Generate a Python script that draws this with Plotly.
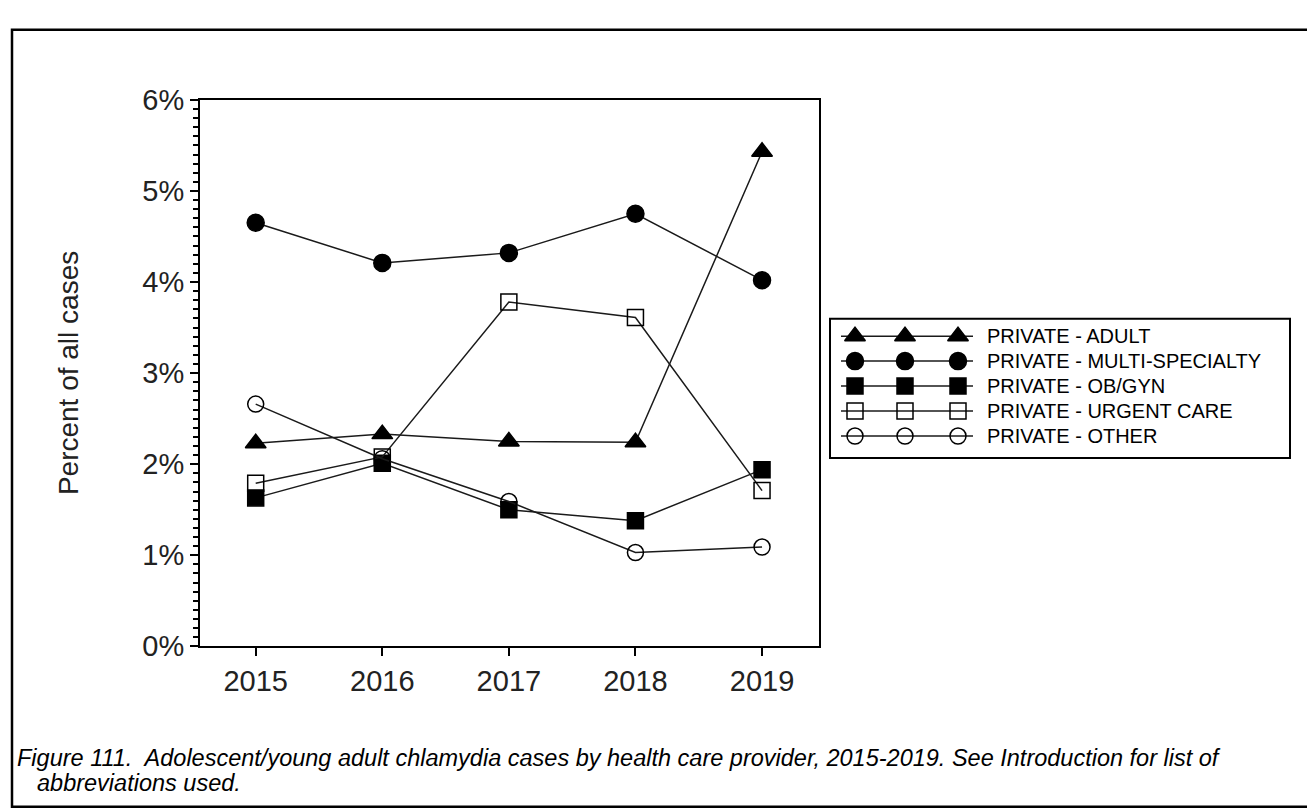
import plotly.graph_objects as go

years = [2015, 2016, 2017, 2018, 2019]
series_names = [
    "PRIVATE - ADULT",
    "PRIVATE - MULTI-SPECIALTY",
    "PRIVATE - OB/GYN",
    "PRIVATE - URGENT CARE",
    "PRIVATE - OTHER",
]
adult = [2.23, 2.33, 2.25, 2.24, 5.43]
multi_specialty = [4.65, 4.21, 4.32, 4.75, 4.02]
ob_gyn = [1.63, 2.01, 1.50, 1.38, 1.94]
urgent_care = [1.79, 2.08, 3.78, 3.61, 1.71]
other = [2.66, 2.06, 1.59, 1.03, 1.09]
y_ticks = [0, 1, 2, 3, 4, 5, 6]
y_tick_labels = ["0%", "1%", "2%", "3%", "4%", "5%", "6%"]

values = [adult, multi_specialty, ob_gyn, urgent_care, other]
symbols = ["triangle-up", "circle", "square", "square-open", "circle-open"]
sizes = [18, 17, 16, 16, 16]

W, H = 1315, 808
FONT = "Liberation Sans, Arial, sans-serif"

def px(x):
    return x / W

def py(y):
    return 1 - y / H

# plot area in pixels
PL, PR, PT, PB = 192, 811, 79, 648
# legend box in pixels
LL, LR, LT, LB = 822, 1282, 307, 452

fig = go.Figure()

for name, vals, sym, sz in zip(series_names, values, symbols, sizes):
    fig.add_trace(go.Scatter(
        x=years, y=vals, name=name, mode="lines+markers",
        line=dict(color="#1a1a1a", width=1.5),
        marker=dict(symbol=sym, size=sz, color="black",
                    line=dict(color="black", width=1.5)),
        showlegend=False, xaxis="x", yaxis="y",
    ))

# custom legend on its own axes (three markers per key, as in the original)
key_line_x = [11, 143]
key_marker_x = [25, 75, 128]
row_y = [18, 44, 70, 96, 122]
for name, sym, sz, ry in zip(series_names, symbols, sizes, row_y):
    fig.add_trace(go.Scatter(
        x=key_line_x, y=[ry, ry], mode="lines",
        line=dict(color="#1a1a1a", width=1.5),
        showlegend=False, hoverinfo="skip", xaxis="x2", yaxis="y2",
    ))
    fig.add_trace(go.Scatter(
        x=key_marker_x, y=[ry] * 3, mode="markers",
        marker=dict(symbol=sym, size=sz, color="black",
                    line=dict(color="black", width=1.5)),
        showlegend=False, hoverinfo="skip", xaxis="x2", yaxis="y2",
    ))
    fig.add_annotation(
        x=155, y=ry, xref="x2", yref="y2", text=name, showarrow=False,
        xanchor="left", yanchor="middle",
        font=dict(family=FONT, size=20, color="black"),
    )

fig.update_layout(
    width=W, height=H,
    margin=dict(l=0, r=0, t=0, b=0),
    paper_bgcolor="white", plot_bgcolor="white",
    font=dict(family=FONT, color="black"),
    xaxis=dict(
        domain=[px(PL), px(PR)], range=[2014.56, 2019.45],
        tickvals=years, ticktext=[str(y) for y in years],
        ticks="outside", ticklen=8, tickwidth=2, tickcolor="black",
        showline=True, linewidth=2, linecolor="black", mirror=True,
        showgrid=False, zeroline=False,
        tickfont=dict(family=FONT, size=29, color="#222"),
        anchor="y",
    ),
    yaxis=dict(
        domain=[py(PB), py(PT)], range=[0, 6],
        tickvals=y_ticks, ticktext=y_tick_labels,
        ticks="outside", ticklen=8, tickwidth=2, tickcolor="black",
        minor=dict(dtick=0.1, ticks="outside", ticklen=5, tickwidth=1.5,
                   tickcolor="black", showgrid=False),
        showline=True, linewidth=2, linecolor="black", mirror=True,
        showgrid=False, zeroline=False,
        tickfont=dict(family=FONT, size=29, color="#222"),
        anchor="x",
    ),
    xaxis2=dict(domain=[px(LL), px(LR)], range=[0, LR - LL], visible=False,
                anchor="y2", fixedrange=True),
    yaxis2=dict(domain=[py(LB), py(LT)], range=[LB - LT, 0], visible=False,
                anchor="x2", fixedrange=True),
    showlegend=False,
)

# y-axis title
fig.add_annotation(
    x=px(60), y=py((PT + PB) / 2), xref="paper", yref="paper",
    text="Percent of all cases", textangle=-90, showarrow=False,
    font=dict(family=FONT, size=28, color="#222"),
    xanchor="center", yanchor="middle",
)

# caption
fig.add_annotation(
    x=px(7), y=py(764), xref="paper", yref="paper",
    text="<i>Figure 111.  Adolescent/young adult chlamydia cases by health care provider, 2015-2019. See Introduction for list of</i>",
    showarrow=False, xanchor="left", yanchor="middle",
    font=dict(family=FONT, size=23.5, color="black"),
)
fig.add_annotation(
    x=px(27), y=py(790), xref="paper", yref="paper",
    text="<i>abbreviations used.</i>",
    showarrow=False, xanchor="left", yanchor="middle",
    font=dict(family=FONT, size=23.5, color="black"),
)

# outer frame (bottom edge lies below the visible page) and legend frame
fig.add_shape(type="rect", xref="paper", yref="paper",
              x0=px(4), x1=px(1313), y0=py(815), y1=py(6),
              line=dict(color="black", width=2.5), fillcolor="rgba(0,0,0,0)",
              layer="below")
fig.add_shape(type="rect", xref="paper", yref="paper",
              x0=px(LL), x1=px(LR), y0=py(LB), y1=py(LT),
              line=dict(color="black", width=2), fillcolor="rgba(0,0,0,0)",
              layer="below")

fig.write_html("out.html")
